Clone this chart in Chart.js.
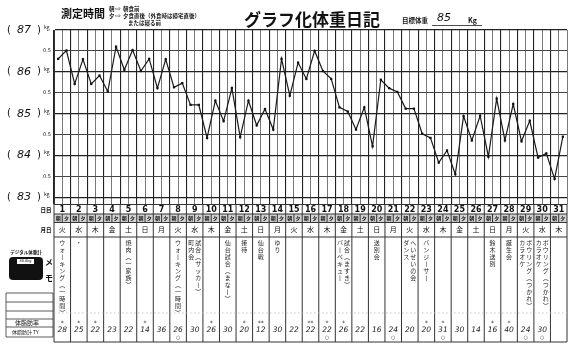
<!DOCTYPE html>
<html><head><meta charset="utf-8">
<script src="https://cdn.jsdelivr.net/npm/chart.js@4/dist/chart.umd.min.js"></script>
<style>html,body{margin:0;padding:0;background:#fff;overflow:hidden}</style>
</head><body>
<canvas id="c" width="575" height="354"></canvas>
<script>
// ---- data ----
const days = Array.from({length:31},(_,i)=>i+1);
const slots = ['朝','夕'];
const weekdays = ['火','水','木','金','土','日','月','火','水','木','金','土','日','月','火','水','木','金','土','日','月','火','水','木','金','土','日','月','火','水','木'];
const weights = [
 86.31,86.51, 85.71,86.30, 85.71,85.91, 85.53,86.60, 86.05,86.52, 86.02,86.31, 85.61,86.30, 85.63,85.73,
 85.21,85.21, 84.42,85.31, 84.82,85.61, 84.44,85.31, 84.72,85.11, 84.62,86.31, 85.43,86.22, 85.83,86.50,
 86.02,85.83, 85.15,85.05, 84.62,85.15, 84.22,85.81, 85.61,85.52, 85.12,85.12, 84.52,84.42, 83.83,84.12,
 83.55,84.94, 84.36,84.95, 83.97,85.36, 84.36,85.23, 84.34,84.83, 83.95,84.05, 83.44,84.45
];
const yMajor = [83,83.5,84,84.5,85,85.5,86,86.5,87];
const yIntLabels = ['83','84','85','86','87'];
const memos = {1:'ウォ丨キング︵一時間︶',2:'・',5:'焼肉︵一家族︶',8:'ウォ丨キング︵一時間︶',9:'町内会|試合︵サッカ丨︶',
 11:'仙台試合︵まな丨︶',12:'接待',13:'仙台戦',14:'ゆり',18:'バ丨ベキュ丨|試合︵ますき︶',20:'送別会',
 22:'ダンス|へいせいの会',23:'バンジ丨サ丨',27:'鈴木送別',28:'誕生会',29:'カラオケ|ボウリング︵つかれ︶',30:'カラオケ|ボウリング︵つかれ︶'};
const counts = [28,25,22,23,22,14,36,26,30,26,30,20,12,30,22,22,22,26,22,16,24,20,20,31,30,14,16,40,24,30,null];
const stars = [1,1,1,0,0,1,0,0,0,1,0,1,2,0,0,2,1,1,0,0,0,0,1,1,0,0,1,1,0,0,0];
const circles = [0,0,0,0,0,0,0,1,0,0,0,0,0,0,0,0,1,0,0,0,1,0,0,1,0,0,0,0,1,1,0];

const labels = [];
days.forEach(d=>slots.forEach(s=>labels.push(d+s)));
const FONT = '"Noto Sans CJK JP","Noto Sans",sans-serif';

const deco = {
 id:'deco',
 afterDraw(chart){
  const c = chart.ctx, xs = chart.scales.x, ys = chart.scales.y, a = chart.chartArea;
  const colW = (a.right - a.left)/labels.length;
  const dayL = d => xs.getPixelForValue(2*d) - colW/2;
  c.save();
  c.fillStyle = '#111'; c.textBaseline='middle';
  // header
  c.font = 'bold 11px '+FONT; c.textAlign='left';
  c.fillText('測定時間', 61, 14);
  c.font = 'bold 5.5px '+FONT;
  c.fillText('朝', 109, 9); c.fillText('朝食前', 123, 9);
  c.fillText('夕', 109, 16); c.fillText('夕食直後（外食時は帰宅直後）', 123, 16);
  c.fillText('または寝る前', 128, 23);
  c.font = '7px "DejaVu Sans",sans-serif';
  c.fillText('⇨', 115, 9); c.fillText('⇨', 115, 16);
  c.font = 'bold 17px '+FONT;
  c.fillText('グラフ化体重日記', 244, 20);
  c.font = 'bold 6.5px '+FONT;
  c.fillText('目標体重', 402, 21);
  c.font = 'italic 11px "DejaVu Sans",sans-serif';
  c.fillText('85', 437, 18);
  c.font = 'bold 7px '+FONT;
  c.fillText('Kg', 468, 20);
  c.strokeStyle='#222'; c.lineWidth=0.8;
  c.beginPath(); c.moveTo(432,25.5); c.lineTo(482,25.5); c.stroke();
  // y labels
  yMajor.forEach(v=>{
   const y = ys.getPixelForValue(v);
   if (Number.isInteger(v)) {
     c.font = '10px "DejaVu Sans",sans-serif'; c.textAlign='left';
     c.fillText('(', 7, y); c.fillText(')', 37, y);
     c.font = 'italic 11px "DejaVu Sans",sans-serif'; c.textAlign='center';
     c.fillText(yIntLabels[v-83], 24, y);
     c.font = '5px '+FONT; c.textAlign='left';
     c.fillText('kg', 44, y-3);
   } else {
     c.font = '5px "DejaVu Sans",sans-serif'; c.textAlign='right';
     c.fillText('0.5', 51, y);
   }
  });
  // table
  const r1=a.bottom, r2=214, r3=222.5, r4=237, rb=342;
  c.fillStyle='#d2d2d2';
  c.fillRect(a.left, r2, a.right-a.left, r3-r2);
  c.strokeStyle='#333'; c.lineWidth=1;
  c.beginPath();
  [r2,r3,r4].forEach(y=>{c.moveTo(a.left,y);c.lineTo(a.right,y);});
  c.moveTo(a.left,rb); c.lineTo(a.right,rb);
  c.moveTo(a.left,a.bottom); c.lineTo(a.left,rb);
  c.moveTo(a.right,a.bottom); c.lineTo(a.right,rb);
  for(let d=1; d<31; d++){ const x=dayL(d); c.moveTo(x,a.bottom); c.lineTo(x,rb); }
  for(let d=0; d<31; d++){ const x=dayL(d)+colW; c.moveTo(x,r2); c.lineTo(x,r3); }
  c.stroke();
  c.strokeStyle='#bbb'; c.setLineDash([1.5,2.5]); c.lineWidth=0.8;
  c.beginPath(); c.moveTo(a.left,313); c.lineTo(a.right,313); c.stroke();
  c.setLineDash([]);
  c.fillStyle='#111'; c.textAlign='center';
  days.forEach((d,i)=>{
   const xl=dayL(i), xc=xl+colW;
   c.fillStyle='#111';
   c.font='bold 8px "DejaVu Sans",sans-serif';
   c.fillText(String(d), xc, (r1+r2)/2+0.5);
   c.font='bold 5px '+FONT;
   c.fillText(slots[0], xl+colW/2, (r2+r3)/2); c.fillText(slots[1], xl+colW*1.5, (r2+r3)/2);
   c.font='7px '+FONT;
   c.fillText(weekdays[i], xc, (r3+r4)/2);
   const m = memos[d];
   c.fillStyle='#222';
   if (m) {
     const parts = m.split('|');
     c.font='6px '+FONT;
     parts.forEach((p,k)=>{
       const px = parts.length>1 ? xc-3.5+k*7 : xc;
       [...p].forEach((ch,j)=>c.fillText(ch, px, 243+j*7));
     });
   }
   c.font='italic 7.5px "DejaVu Sans",sans-serif';
   if (counts[i]!=null) c.fillText(String(counts[i]), xc, 330);
   if (stars[i]) { c.font='6px "DejaVu Sans",sans-serif'; c.fillText(stars[i]===2?'**':'*', xc, 323); }
   if (circles[i]) { c.font='5px "DejaVu Sans",sans-serif'; c.fillText('○', xc, 338); }
  });
  // left labels
  c.fillStyle='#111';
  c.font='bold 5.5px '+FONT; c.textAlign='center';
  c.fillText('日目', 46, 210); c.fillText('月日', 46, 230);
  c.font='bold 8px '+FONT;
  c.fillText('メ', 49, 262); c.fillText('モ', 49, 278);
  c.font='bold 4.5px '+FONT;
  c.fillText('デジタル体重計', 26, 252);
  c.beginPath(); c.roundRect(9,257,34,23,4); c.fill();
  c.fillStyle='#fff'; c.fillRect(17,259,17,5);
  c.fillStyle='#111'; c.font='3.5px "DejaVu Sans",sans-serif'; c.fillText('88.8kg', 25.5, 261.5);
  c.strokeStyle='#333'; c.lineWidth=0.8;
  c.beginPath(); c.rect(6,293,47,44);
  [302,311,319,327].forEach(y=>{c.moveTo(6,y);c.lineTo(53,y);});
  c.stroke();
  c.font='6px '+FONT; c.textAlign='left';
  c.fillText('体脂肪率', 15, 323);
  c.font='5px '+FONT;
  c.fillText('体脂肪計 TY', 12, 332);
  c.restore();
 }
};

new Chart(document.getElementById('c'), {
 type:'line',
 data:{ labels, datasets:[{ data:weights, borderColor:'#1a1a1a', borderWidth:1.2, pointStyle:'rect',
   pointRadius:1.6, pointBackgroundColor:'#111', pointBorderWidth:0, tension:0 }]},
 options:{
  responsive:false, animation:false, devicePixelRatio:1,
  layout:{ padding:{ left:54, right:8, top:30, bottom:150 } },
  plugins:{ legend:{display:false}, tooltip:{enabled:false} },
  scales:{
   x:{ type:'category', offset:true,
     grid:{ offset:true, drawTicks:false, color:ctx=>ctx.index%2===0?'#222':'#555', lineWidth:ctx=>ctx.index%2===0?1.1:0.8 },
     ticks:{ display:false }, border:{ display:true, color:'#333', width:1 } },
   y:{ min:82.84, max:87,
     afterBuildTicks:s=>{ s.ticks = yMajor.map(v=>({value:v})); },
     grid:{ drawTicks:false, color:ctx=>(ctx.tick && Number.isInteger(ctx.tick.value))?'#222':'#444',
       lineWidth:ctx=>(ctx.tick && Number.isInteger(ctx.tick.value))?1.3:1 },
     ticks:{ display:false }, border:{ display:true, color:'#333', width:1 } }
  }
 },
 plugins:[deco]
});
</script>
</body></html>
